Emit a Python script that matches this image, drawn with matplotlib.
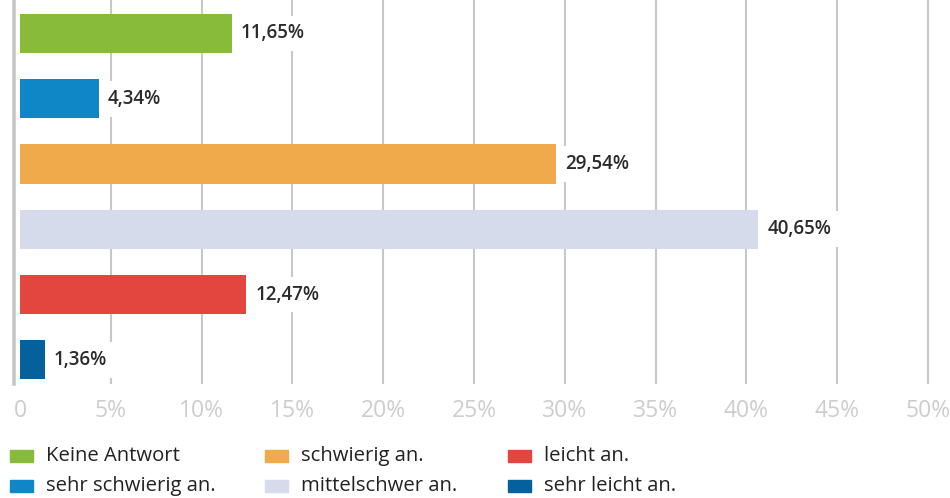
import matplotlib
matplotlib.use("Agg")
import matplotlib.pyplot as plt
from matplotlib.patches import Rectangle

categories = ["Keine Antwort", "sehr schwierig an.", "schwierig an.",
              "mittelschwer an.", "leicht an.", "sehr leicht an."]
values = [11.65, 4.34, 29.54, 40.65, 12.47, 1.36]
colors = ["#87bb39", "#0f86c6", "#f0a94b", "#d6dbeb", "#e3453f", "#05609e"]
ticks = [0, 5, 10, 15, 20, 25, 30, 35, 40, 45, 50]
tick_labels = ["0"] + [f"{t}%" for t in ticks[1:]]

plt.rcParams["font.family"] = ["Open Sans", "DejaVu Sans"]

W, H = 950, 498
fig = plt.figure(figsize=(W / 100, H / 100), dpi=100)
ax = fig.add_axes([14 / W, 1 - 384 / H, 926 / W, 384 / H])

ypos = list(range(len(values)))
ax.barh(ypos, values, height=0.6, color=colors, zorder=2)

# value labels with white box that interrupts the gridlines
for y, v in zip(ypos, values):
    txt = f"{v:.2f}".replace(".", ",") + "%"
    ax.annotate(txt, (v, y), xytext=(6.5, 0), textcoords="offset points",
                va="center", ha="left", fontsize=13.5, fontweight="semibold",
                color="#2b2b2b", zorder=3,
                bbox=dict(boxstyle="square,pad=0.42", fc="white", ec="none"))

ax.set_xlim(-0.33, 50.66)
ax.set_ylim(5.37, -0.513)
ax.set_xticks(ticks)
ax.set_xticklabels(tick_labels)
ax.set_yticks([])
ax.tick_params(axis="x", length=0, pad=10.5, labelsize=16.5, labelcolor="#cdcdcd")

ax.set_axisbelow(True)
ax.grid(axis="x", color="#c8c8c8", linewidth=1.5)
ax.xaxis.get_gridlines()[0].set_visible(False)

for side in ["top", "right", "bottom"]:
    ax.spines[side].set_visible(False)
ax.spines["left"].set_color("#c6c6c6")
ax.spines["left"].set_linewidth(2.6)

# legend, three columns of two
col_x = [10, 265, 508]
row_y = [456, 486]
for i, (lab, col) in enumerate(zip(categories, colors)):
    x0 = col_x[i // 2]
    y0 = row_y[i % 2]
    fig.add_artist(Rectangle((x0 / W, 1 - (y0 + 6) / H), 23 / W, 12 / H,
                             transform=fig.transFigure, color=col))
    fig.text((x0 + 36) / W, 1 - y0 / H, lab, fontsize=14.6, color="#222222",
             va="center", ha="left")

fig.savefig("out.png", dpi=100)
